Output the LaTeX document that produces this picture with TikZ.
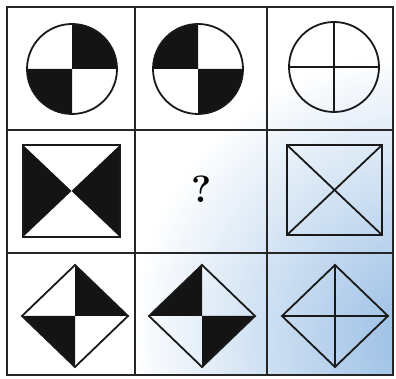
\documentclass[tikz,border=0pt]{standalone}
\usetikzlibrary{calc}
\begin{document}
\begin{tikzpicture}[x=1pt,y=1pt,
  grid/.style={line width=1.8pt,draw=black!85},
  fig/.style={line width=1.8pt,draw=black!90,line join=miter},
  blk/.style={fill=black!92}]
\useasboundingbox (0,0) rectangle (396,379);
\fill[white] (0,0) rectangle (396,379);
% scan shading
\begin{scope}
\clip (7,4) rectangle (393,372);
\shade[inner color={rgb,255:red,150;green,188;blue,228}, outer color=white] (420,40) circle (290);
\end{scope}
% grid
\draw[grid] (7,4) rectangle (393,372);
\draw[grid] (135,4) -- (135,372);
\draw[grid] (267,4) -- (267,372);
\draw[grid] (7,249) -- (393,249);
\draw[grid] (7,126) -- (393,126);
% row 1 circles
\coordinate (c1) at (72,310);
\coordinate (c2) at (198,310);
\coordinate (c3) at (334,312);
\fill[blk] (c1) -- ++(45,0) arc (0:90:45) -- cycle;
\fill[blk] (c1) -- ++(-45,0) arc (180:270:45) -- cycle;
\draw[fig] (c1) circle (45);
\fill[blk] (c2) -- ++(0,45) arc (90:180:45) -- cycle;
\fill[blk] (c2) -- ++(0,-45) arc (270:360:45) -- cycle;
\draw[fig] (c2) circle (45);
\draw[fig] (c3) circle (45);
\draw[fig] ([xshift=-45pt]c3) -- ([xshift=45pt]c3);
\draw[fig] ([yshift=-45pt]c3) -- ([yshift=45pt]c3);
% row 2 squares
\coordinate (s1) at (71.5,188);
\fill[blk] (23,234) -- (s1) -- (23,142) -- cycle;
\fill[blk] (120,234) -- (s1) -- (120,142) -- cycle;
\draw[fig] (23,142) rectangle (120,234);
\node[font=\fontsize{38}{38}\selectfont\bfseries] (q) at (202,190) {?};
\draw[fig] (287,144) rectangle (382,234);
\draw[fig] (287,144) -- (382,234);
\draw[fig] (287,234) -- (382,144);
% row 3 diamonds
\coordinate (d1) at (75,63);
\coordinate (d2) at (202,63);
\coordinate (d3) at (335,63);
\fill[blk] (d1) -- ++(0,51) -- ++(53,-51) -- cycle;
\fill[blk] (d1) -- ++(-53,0) -- ++(53,-51) -- cycle;
\draw[fig] ([xshift=-53pt]d1) -- ([yshift=51pt]d1) -- ([xshift=53pt]d1) -- ([yshift=-51pt]d1) -- cycle;
\fill[blk] (d2) -- ++(0,51) -- ++(-53,-51) -- cycle;
\fill[blk] (d2) -- ++(53,0) -- ++(-53,-51) -- cycle;
\draw[fig] ([xshift=-53pt]d2) -- ([yshift=51pt]d2) -- ([xshift=53pt]d2) -- ([yshift=-51pt]d2) -- cycle;
\draw[fig] ([xshift=-53pt]d3) -- ([yshift=51pt]d3) -- ([xshift=53pt]d3) -- ([yshift=-51pt]d3) -- cycle;
\draw[fig] ([xshift=-53pt]d3) -- ([xshift=53pt]d3);
\draw[fig] ([yshift=-51pt]d3) -- ([yshift=51pt]d3);
\end{tikzpicture}
\end{document}
